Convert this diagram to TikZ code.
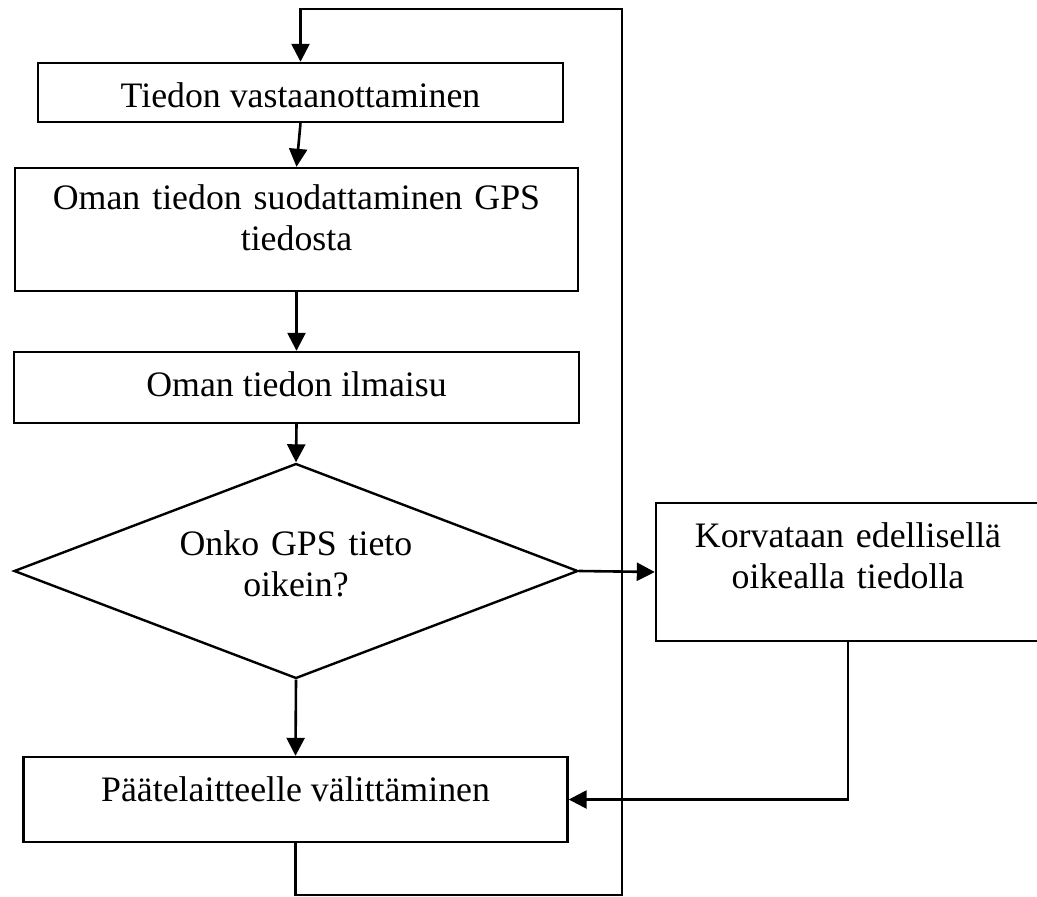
\documentclass[tikz,border=0pt]{standalone}
\usepackage{fontspec}
\setmainfont{Liberation Serif}
\usetikzlibrary{arrows.meta,shapes.geometric}
\tikzset{
	flowbox/.style={rectangle,draw=black,fill=white,inner sep=0pt,line width=1.2pt,font=\fontsize{17.9pt}{20.5pt}\selectfont},
	flowdiam/.style={diamond,draw=black,fill=white,inner sep=0pt,aspect=2.6,line width=1.2pt,font=\fontsize{17.9pt}{20.5pt}\selectfont},
	flowlink/.style={draw=black,line width=1.3pt,-{Triangle[length=9pt,width=9pt]}}
}
\begin{document}
\begin{tikzpicture}[x=0.5pt,y=-0.5pt]
	\useasboundingbox (0,0) rectangle (1037,897);
	\node[flowbox,minimum width=262.5pt,minimum height=29.5pt,text height=15.5pt,text depth=0pt] (recv) at (300.5,92.5) {Tiedon vastaanottaminen};
	\node[flowbox,minimum width=281.5pt,minimum height=61.5pt,text width=250pt,align=center,text height=12pt,text depth=31.5pt] (filt) at (296.5,229.5) {Oman tiedon suodattaminen GPS\\tiedosta};
	\node[flowbox,minimum width=282.5pt,minimum height=35.5pt,text height=12pt,text depth=2.5pt] (ilm) at (296.5,387.5) {Oman tiedon ilmaisu};
	\node[flowdiam,minimum width=282pt,minimum height=107.5pt,text width=120pt,align=center,text height=12pt,text depth=28pt] (check) at (296,571) {Onko GPS tieto\\oikein?};
	\node[flowbox,minimum width=192pt,minimum height=69pt,text width=160pt,align=center,text height=12pt,text depth=37pt] (fix) at (848,572) {Korvataan edellisellä\\oikealla tiedolla};
	\node[flowbox,minimum width=272pt,minimum height=42.5pt,text height=12pt,text depth=9.8pt] (send) at (295.5,799.5) {Päätelaitteelle välittäminen};
	\coordinate (loopbr) at (622,895);
	\coordinate (looptr) at (622,9);
	\draw[flowlink] (recv.south) -- (filt.north);
	\draw[flowlink] (filt.south) -- (ilm.north);
	\draw[flowlink] (ilm.south) -- (check.north);
	\draw[flowlink] (check.east) -- (fix.west);
	\draw[flowlink] (check.south) -- (send.north);
	\draw[flowlink] (fix.south) |- (send.east);
	\draw[flowlink] (send.south) |- (loopbr) -- (looptr) -| (recv.north);
\end{tikzpicture}
\end{document}
